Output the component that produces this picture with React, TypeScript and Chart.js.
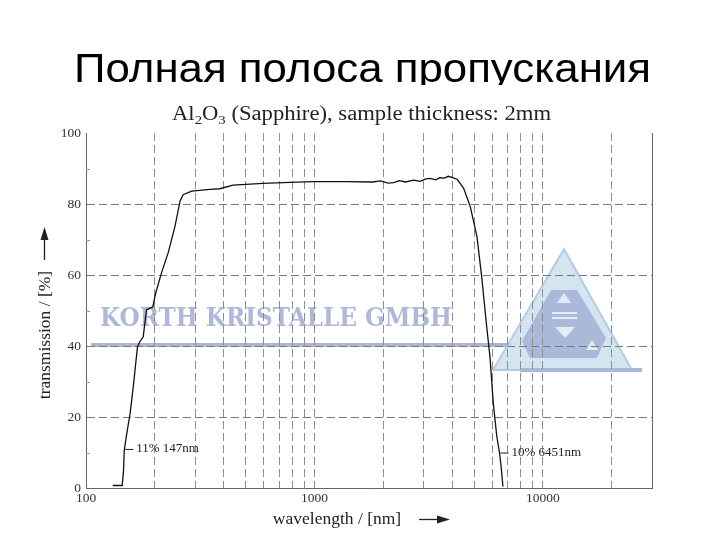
import { useEffect, useRef } from "react";
import { Chart, registerables } from "chart.js";

Chart.register(...registerables);

// ---- data ----
const wavelengthsNm = [
  131, 144, 146, 147, 150, 156, 161, 168, 172, 178, 184, 196, 202, 214, 229, 245, 258, 266,
  290, 349, 385, 440, 595, 780, 985, 1385, 1800, 1950, 2100, 2220, 2350, 2500, 2720, 2900,
  3050, 3200, 3400, 3530, 3700, 3850, 4000, 4220, 4490, 4800, 5140, 5390, 5670, 5860, 6060,
  6280, 6451, 6560, 6680,
];
const transmissionPct = [
  0.7, 0.7, 5, 10.5, 14.4, 21, 28.5, 39.8, 41.2, 42.6, 50.2, 51, 55, 60.6, 66.3, 73.6, 80.8,
  82.6, 83.6, 84.1, 84.3, 85.3, 85.8, 86.1, 86.3, 86.3, 86.2, 86.5, 85.9, 86.0, 86.6, 86.2,
  86.7, 86.4, 87.0, 87.2, 86.8, 87.4, 87.3, 87.8, 87.5, 86.9, 84.5, 79.4, 70.9, 59.6, 45.5,
  37, 23.9, 14.5, 10, 6, 0.4,
];
const xGridValues = [
  100, 200, 300, 400, 500, 600, 700, 800, 900,
  1000, 2000, 3000, 4000, 5000, 6000, 7000, 8000, 9000,
  10000, 20000, 30000,
];
const xLabelValues = [100, 1000, 10000];
const yMinorTicks = [10, 30, 50, 70, 90];
const annotationWavelengths = [147, 6451];
const annotationValues = [11, 10];
const annotationLabels = ["11% 147nm", "10% 6451nm"];

const pageTitle = "Полная полоса пропускания";
const chartTitleParts = [
  { text: "Al", sub: false },
  { text: "2", sub: true },
  { text: "O", sub: false },
  { text: "3", sub: true },
  { text: " (Sapphire), sample thickness: 2mm", sub: false },
];
const xAxisTitle = "wavelength / [nm]";
const yAxisTitle = "transmission / [%]";
const watermarkText = "KORTH KRISTALLE GMBH";

const SERIF = '"Liberation Serif", "DejaVu Serif", serif';

const decorPlugin = {
  id: "decor",
  beforeDraw(chart: any) {
    const ctx = chart.ctx as CanvasRenderingContext2D;
    ctx.save();
    // watermark text
    ctx.fillStyle = "rgb(176,184,218)";
    ctx.font = `bold 26px "DejaVu Serif", "Liberation Serif", serif`;
    ctx.textBaseline = "alphabetic";
    const w = ctx.measureText(watermarkText).width;
    ctx.save();
    ctx.translate(100, 326);
    ctx.scale(352 / w, 1);
    ctx.fillText(watermarkText, 0, 0);
    ctx.restore();
    // bar under text
    ctx.fillStyle = "rgb(172,180,216)";
    ctx.fillRect(91, 343, 421, 4);
    // triangle logo
    ctx.beginPath();
    ctx.moveTo(564, 249);
    ctx.lineTo(632, 370);
    ctx.lineTo(493, 370);
    ctx.closePath();
    ctx.fillStyle = "rgba(205,225,240,0.85)";
    ctx.fill();
    ctx.strokeStyle = "rgba(175,200,222,0.9)";
    ctx.lineWidth = 2;
    ctx.stroke();
    ctx.fillStyle = "rgb(168,184,216)";
    ctx.fillRect(520, 368, 122, 4);
    // inner shape
    ctx.beginPath();
    ctx.moveTo(551, 290);
    ctx.lineTo(577, 290);
    ctx.lineTo(606, 338);
    ctx.lineTo(597, 358);
    ctx.lineTo(530, 358);
    ctx.lineTo(522, 341);
    ctx.closePath();
    ctx.fillStyle = "rgb(170,184,218)";
    ctx.fill();
    ctx.fillStyle = "rgba(225,236,246,1)";
    const tri = (pts: number[][]) => {
      ctx.beginPath();
      ctx.moveTo(pts[0][0], pts[0][1]);
      for (let i = 1; i < pts.length; i++) ctx.lineTo(pts[i][0], pts[i][1]);
      ctx.closePath();
      ctx.fill();
    };
    tri([[564, 293], [571, 303], [557, 303]]);
    tri([[555, 327], [575, 327], [565, 338]]);
    tri([[592, 340], [598, 350], [586, 350]]);
    ctx.fillRect(552, 312, 25, 2);
    ctx.fillRect(552, 317, 25, 2);
    ctx.restore();
  },
  afterDatasetsDraw(chart: any) {
    const ctx = chart.ctx as CanvasRenderingContext2D;
    const xs = chart.scales.x;
    const ys = chart.scales.y;
    ctx.save();
    ctx.strokeStyle = "#222";
    ctx.fillStyle = "#222";
    ctx.lineWidth = 1;
    ctx.font = `13px ${SERIF}`;
    ctx.textBaseline = "middle";
    ctx.textAlign = "left";
    annotationWavelengths.forEach((wl, i) => {
      const px = xs.getPixelForValue(wl);
      const py = ys.getPixelForValue(annotationValues[i]);
      ctx.beginPath();
      ctx.moveTo(px + 1, py + 0.5);
      ctx.lineTo(px + 9, py + 0.5);
      ctx.stroke();
      ctx.fillText(annotationLabels[i], px + 12, py);
    });
    ctx.restore();
  },
  afterDraw(chart: any) {
    const ctx = chart.ctx as CanvasRenderingContext2D;
    const area = chart.chartArea;
    const ys = chart.scales.y;
    ctx.save();
    // right border
    ctx.strokeStyle = "#666";
    ctx.lineWidth = 1;
    ctx.beginPath();
    ctx.moveTo(area.right + 0.5, area.top);
    ctx.lineTo(area.right + 0.5, area.bottom);
    ctx.stroke();
    // minor y ticks
    ctx.strokeStyle = "#999";
    yMinorTicks.forEach((v) => {
      const py = Math.round(ys.getPixelForValue(v)) + 0.5;
      ctx.beginPath();
      ctx.moveTo(area.left, py);
      ctx.lineTo(area.left + 4, py);
      ctx.stroke();
    });

    // page title (clipped at the top of the figure)
    ctx.save();
    ctx.beginPath();
    ctx.rect(0, 0, 720, 85);
    ctx.clip();
    ctx.fillStyle = "#000";
    ctx.font = `41px "Liberation Sans", Arial, sans-serif`;
    ctx.textBaseline = "alphabetic";
    ctx.textAlign = "left";
    const tw = ctx.measureText(pageTitle).width;
    ctx.translate(74, 82);
    ctx.scale(577 / tw, 1);
    ctx.fillText(pageTitle, 0, 0);
    ctx.restore();

    // chart title with subscripts
    ctx.fillStyle = "#222";
    ctx.textAlign = "left";
    ctx.textBaseline = "alphabetic";
    const mainFont = `20px ${SERIF}`;
    const subFont = `13px ${SERIF}`;
    let total = 0;
    chartTitleParts.forEach((p) => {
      ctx.font = p.sub ? subFont : mainFont;
      total += ctx.measureText(p.text).width;
    });
    ctx.save();
    ctx.translate(172, 120);
    ctx.scale(379 / total, 1);
    let cx = 0;
    chartTitleParts.forEach((p) => {
      ctx.font = p.sub ? subFont : mainFont;
      ctx.fillText(p.text, cx, p.sub ? 4 : 0);
      cx += ctx.measureText(p.text).width;
    });
    ctx.restore();

    // axis titles + arrows
    ctx.fillStyle = "#222";
    ctx.strokeStyle = "#222";
    ctx.font = `17.5px ${SERIF}`;
    ctx.textAlign = "center";
    ctx.textBaseline = "middle";
    ctx.fillText(xAxisTitle, 337, 519);
    ctx.lineWidth = 1.3;
    ctx.beginPath();
    ctx.moveTo(419, 519.5);
    ctx.lineTo(440, 519.5);
    ctx.stroke();
    ctx.beginPath();
    ctx.moveTo(450, 519.5);
    ctx.lineTo(437, 515.5);
    ctx.lineTo(437, 523.5);
    ctx.closePath();
    ctx.fill();

    ctx.save();
    ctx.translate(45, 335);
    ctx.rotate(-Math.PI / 2);
    ctx.fillText(yAxisTitle, 0, 0);
    ctx.restore();
    ctx.beginPath();
    ctx.moveTo(44.5, 260);
    ctx.lineTo(44.5, 238);
    ctx.stroke();
    ctx.beginPath();
    ctx.moveTo(44.5, 227);
    ctx.lineTo(40.5, 240);
    ctx.lineTo(48.5, 240);
    ctx.closePath();
    ctx.fill();
    ctx.restore();
  },
};

export default function App() {
  const canvasRef = useRef<HTMLCanvasElement | null>(null);

  useEffect(() => {
    if (!canvasRef.current) return;
    const points = wavelengthsNm.map((x, i) => ({ x, y: transmissionPct[i] }));
    const chart = new Chart(canvasRef.current, {
      type: "line",
      data: {
        datasets: [
          {
            data: points,
            borderColor: "#111",
            borderWidth: 1.3,
            pointRadius: 0,
            tension: 0,
            fill: false,
          },
        ],
      },
      options: {
        animation: false,
        responsive: false,
        maintainAspectRatio: false,
        devicePixelRatio: 1,
        events: [],
        layout: { padding: { top: 133, right: 68, left: 0, bottom: 0 } },
        plugins: {
          legend: { display: false },
          title: { display: false },
          tooltip: { enabled: false },
        },
        scales: {
          x: {
            type: "logarithmic",
            min: 100,
            max: 30000,
            afterBuildTicks: (scale: any) => {
              scale.ticks = xGridValues.map((v) => ({ value: v }));
            },
            afterFit: (scale: any) => {
              scale.height = 52;
            },
            ticks: {
              autoSkip: false,
              maxRotation: 0,
              minRotation: 0,
              padding: 2,
              color: "#333",
              font: { family: SERIF, size: 13.5 },
              callback: (value: any) => (xLabelValues.includes(Number(value)) ? String(value) : ""),
            },
            grid: {
              drawTicks: false,
              lineWidth: 1,
              color: (c: any) =>
                c.tick && (c.tick.value === 100 || c.tick.value === 30000) ? "rgba(0,0,0,0)" : "#8c8c8c",
            },
            border: { display: true, color: "#666", width: 1, dash: [8, 4] },
          },
          y: {
            type: "linear",
            min: 0,
            max: 100,
            afterFit: (scale: any) => {
              scale.width = 86;
            },
            ticks: {
              stepSize: 20,
              padding: 5,
              color: "#333",
              font: { family: SERIF, size: 13.5 },
            },
            grid: {
              drawTicks: false,
              lineWidth: 1,
              color: (c: any) =>
                c.tick && (c.tick.value === 0 || c.tick.value === 100) ? "rgba(0,0,0,0)" : "#7a7a7a",
            },
            border: { display: true, color: "#666", width: 1, dash: [8, 4] },
          },
        },
      },
      plugins: [decorPlugin],
    } as any);
    return () => chart.destroy();
  }, []);

  return (
    <div style={{ position: "absolute", left: 0, top: 0, width: 720, height: 540, background: "#fff" }}>
      <canvas ref={canvasRef} width={720} height={540} style={{ width: 720, height: 540, display: "block" }} />
    </div>
  );
}
